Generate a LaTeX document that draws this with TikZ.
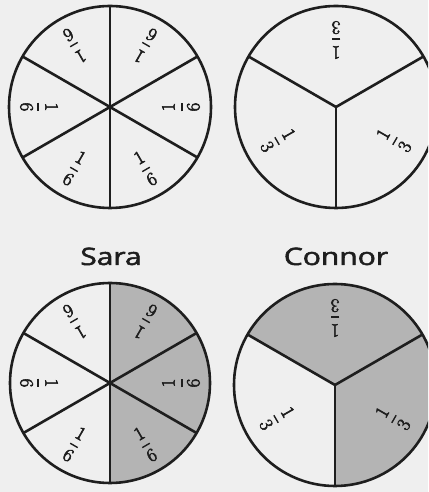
\documentclass[tikz,border=0pt]{standalone}
\usepackage{amsmath}
\usepackage{fontspec}
\setmainfont{Open Sans}
\newfontfamily\namefont[FakeBold=2]{Open Sans}
\newfontfamily\digitfont[FakeBold=3]{Latin Modern Roman}
\newcommand{\partof}[1]{$\genfrac{}{}{1.4pt}{0}{\text{\digitfont 1}}{\text{\digitfont #1}}$}
\definecolor{paper}{HTML}{EFEFEF}
\definecolor{partgray}{HTML}{B4B4B4}
\definecolor{ink}{HTML}{1E1E1E}

\begin{document}
\begin{tikzpicture}[x=1pt, y=1pt, line width=2.6pt, ink,
    part/.style={font=\fontsize{19}{22}\selectfont, inner sep=0pt},
    kid/.style={font=\namefont\fontsize{24}{28}\selectfont, xscale=1.25, anchor=base}]
        % Paper
        \fill[paper] (0,0) rectangle (428,492);
        \clip (0,0) rectangle (428,492);

        % Sixths, top left
        \begin{scope}[shift={(110,385)}]
            \draw (0,0) circle (101);
            \draw (90:101) -- (270:101);
            \draw (30:101) -- (210:101);
            \draw (150:101) -- (330:101);
            \node[part, rotate=90] (sixA) at (0:71) {\partof{6}};
            \node[part, rotate=150] (sixB) at (60:71) {\partof{6}};
            \node[part, rotate=210] (sixC) at (120:71) {\partof{6}};
            \node[part, rotate=270] (sixD) at (180:71) {\partof{6}};
            \node[part, rotate=330] (sixE) at (240:71) {\partof{6}};
            \node[part, rotate=30] (sixF) at (300:71) {\partof{6}};
        \end{scope}

        % Thirds, top right
        \begin{scope}[shift={(336,385)}]
            \draw (0,0) circle (101);
            \draw (0,0) -- (30:101);
            \draw (0,0) -- (150:101);
            \draw (0,0) -- (270:101);
            \node[part, rotate=180] (thirdA) at (90:67) {\partof{3}};
            \node[part, rotate=300] (thirdB) at (210:67) {\partof{3}};
            \node[part, rotate=60] (thirdC) at (330:67) {\partof{3}};
        \end{scope}

        % Names
        \node[kid] (sara) at (111,227) {Sara};
        \node[kid] (connor) at (336,227) {Connor};

        % Sara: three sixths shaded
        \begin{scope}[shift={(110,109)}]
            \fill[partgray] (0,0) -- (-90:100) arc[start angle=-90, end angle=90, radius=100] -- cycle;
            \draw (0,0) circle (100);
            \draw (90:100) -- (270:100);
            \draw (30:100) -- (210:100);
            \draw (150:100) -- (330:100);
            \node[part, rotate=90] (saraA) at (0:71) {\partof{6}};
            \node[part, rotate=150] (saraB) at (60:71) {\partof{6}};
            \node[part, rotate=210] (saraC) at (120:71) {\partof{6}};
            \node[part, rotate=270] (saraD) at (180:71) {\partof{6}};
            \node[part, rotate=330] (saraE) at (240:71) {\partof{6}};
            \node[part, rotate=30] (saraF) at (300:71) {\partof{6}};
        \end{scope}

        % Connor: two thirds shaded
        \begin{scope}[shift={(335,107)}]
            \fill[partgray] (0,0) -- (-90:101) arc[start angle=-90, end angle=150, radius=101] -- cycle;
            \draw (0,0) circle (101);
            \draw (0,0) -- (30:101);
            \draw (0,0) -- (150:101);
            \draw (0,0) -- (270:101);
            \node[part, rotate=180] (connorA) at (90:67) {\partof{3}};
            \node[part, rotate=300] (connorB) at (210:67) {\partof{3}};
            \node[part, rotate=60] (connorC) at (330:67) {\partof{3}};
        \end{scope}
\end{tikzpicture}
\end{document}
